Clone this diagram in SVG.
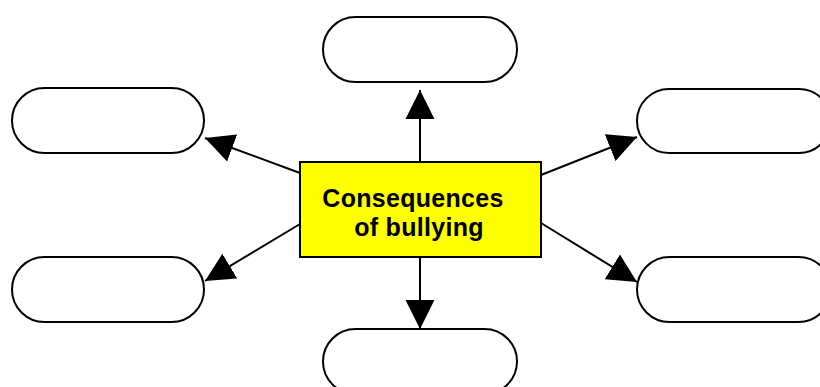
<svg xmlns="http://www.w3.org/2000/svg" width="820" height="387" viewBox="0 0 820 387">
<style>
.node{fill:#fff;stroke:#000;stroke-width:2}
.center{fill:#ffff00;stroke:#000;stroke-width:2}
.conn{stroke:#000;stroke-width:2;fill:none;marker-end:url(#ah)}
.lbl{font-family:"Liberation Sans",Arial,sans-serif;font-weight:bold;font-size:25px;letter-spacing:0.3px;fill:#000;text-anchor:middle}
</style>
<defs>
<marker id="ah" markerUnits="userSpaceOnUse" markerWidth="30" markerHeight="30" viewBox="0 -14 28 28" refX="27" refY="0" orient="auto">
<path d="M0,-13.5 L27,0 L0,13.5 z" fill="#000"/>
</marker>
</defs>
<rect width="820" height="387" fill="#fff"/>
<g id="connectors">
<line class="conn" x1="420" y1="162" x2="420" y2="90"/>
<line class="conn" x1="420" y1="257" x2="420" y2="329"/>
<line class="conn" x1="300" y1="173" x2="205" y2="138"/>
<line class="conn" x1="300" y1="224" x2="205" y2="281"/>
<line class="conn" x1="541" y1="175" x2="637" y2="137"/>
<line class="conn" x1="541" y1="223" x2="637" y2="282"/>
</g>
<g id="node-top"><rect class="node" x="323" y="17" width="194" height="65" rx="32.5"/></g>
<g id="node-bottom"><rect class="node" x="323" y="329" width="194" height="65" rx="32.5"/></g>
<g id="node-left-top"><rect class="node" x="12" y="88" width="192" height="65" rx="32.5"/></g>
<g id="node-left-bottom"><rect class="node" x="12" y="257" width="192" height="65" rx="32.5"/></g>
<g id="node-right-top"><rect class="node" x="637" y="89" width="194" height="64" rx="32"/></g>
<g id="node-right-bottom"><rect class="node" x="637" y="257" width="194" height="65" rx="32.5"/></g>
<g id="node-center">
<rect class="center" x="300" y="162" width="241" height="95"/>
<text class="lbl" x="413" y="207">Consequences</text>
<text class="lbl" x="419" y="236">of bullying</text>
</g>
</svg>
